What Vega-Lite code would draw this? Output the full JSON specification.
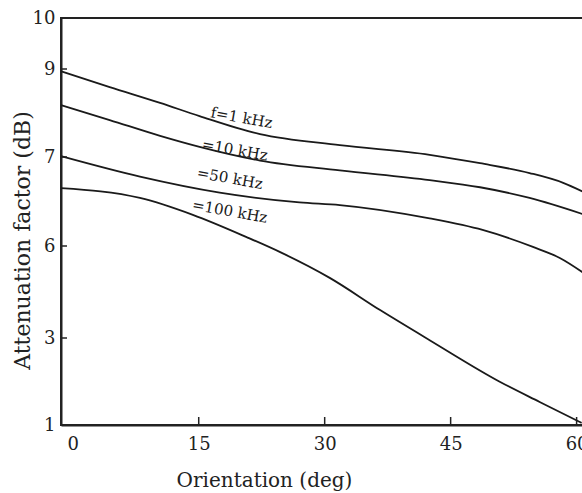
{
  "$schema": "https://vega.github.io/schema/vega-lite/v6.json",
  "width": 524,
  "height": 407,
  "autosize": {"type": "none"},
  "padding": {"left": 61, "top": 18, "right": 0, "bottom": 68},
  "background": "white",
  "config": {
    "view": {"stroke": "#222", "strokeWidth": 2},
    "font": "DejaVu Serif",
    "axis": {"grid": false, "ticks": false, "domainColor": "#222", "domainWidth": 2, "labelColor": "#222", "labelFont": "DejaVu Serif", "labelFontSize": 18, "titleFont": "DejaVu Serif", "titleFontSize": 20, "titleFontWeight": "normal", "titleColor": "#222"}
  },
  "layer": [
    {
      "data": {"values": [
        {"f": "1 kHz", "angle": -1.4, "att": 8.95},
        {"f": "1 kHz", "angle": 4.4, "att": 8.59},
        {"f": "1 kHz", "angle": 10.4, "att": 8.23},
        {"f": "1 kHz", "angle": 15.1, "att": 7.93},
        {"f": "1 kHz", "angle": 22.3, "att": 7.52},
        {"f": "1 kHz", "angle": 31.8, "att": 7.27},
        {"f": "1 kHz", "angle": 42.5, "att": 7.05},
        {"f": "1 kHz", "angle": 48.5, "att": 6.93},
        {"f": "1 kHz", "angle": 54.4, "att": 6.82},
        {"f": "1 kHz", "angle": 58.4, "att": 6.71},
        {"f": "1 kHz", "angle": 61, "att": 6.6},
        {"f": "10 kHz", "angle": -1.4, "att": 8.18},
        {"f": "10 kHz", "angle": 4.4, "att": 7.84},
        {"f": "10 kHz", "angle": 10.4, "att": 7.48},
        {"f": "10 kHz", "angle": 15.1, "att": 7.23},
        {"f": "10 kHz", "angle": 22.3, "att": 6.96},
        {"f": "10 kHz", "angle": 31.8, "att": 6.85},
        {"f": "10 kHz", "angle": 42.5, "att": 6.74},
        {"f": "10 kHz", "angle": 48.5, "att": 6.66},
        {"f": "10 kHz", "angle": 54.4, "att": 6.54},
        {"f": "10 kHz", "angle": 61, "att": 6.35},
        {"f": "50 kHz", "angle": -1.4, "att": 7.02},
        {"f": "50 kHz", "angle": 8.0, "att": 6.78},
        {"f": "50 kHz", "angle": 17.5, "att": 6.6},
        {"f": "50 kHz", "angle": 27.0, "att": 6.49},
        {"f": "50 kHz", "angle": 31.8, "att": 6.46},
        {"f": "50 kHz", "angle": 42.5, "att": 6.31},
        {"f": "50 kHz", "angle": 48.8, "att": 6.18},
        {"f": "50 kHz", "angle": 54.8, "att": 5.97},
        {"f": "50 kHz", "angle": 58.0, "att": 5.61},
        {"f": "50 kHz", "angle": 61, "att": 5.09},
        {"f": "100 kHz", "angle": -1.4, "att": 6.65},
        {"f": "100 kHz", "angle": 8.0, "att": 6.54},
        {"f": "100 kHz", "angle": 14.3, "att": 6.35},
        {"f": "100 kHz", "angle": 20.7, "att": 6.1},
        {"f": "100 kHz", "angle": 24.7, "att": 5.8},
        {"f": "100 kHz", "angle": 30.6, "att": 4.96},
        {"f": "100 kHz", "angle": 36.6, "att": 3.91},
        {"f": "100 kHz", "angle": 42.5, "att": 2.95},
        {"f": "100 kHz", "angle": 50.9, "att": 1.99},
        {"f": "100 kHz", "angle": 55.6, "att": 1.53},
        {"f": "100 kHz", "angle": 60.6, "att": 1.05}
      ]},
      "mark": {"type": "line", "interpolate": "monotone", "color": "#1a1a1a", "strokeWidth": 1.8},
      "encoding": {
        "x": {"field": "angle", "type": "quantitative", "scale": {"domain": [-1.4, 61], "nice": false, "zero": false},
              "axis": {"values": [0, 15, 30, 45, 60], "labelPadding": 10, "title": "Orientation (deg)", "titleX": 203, "titleY": 55, "titleBaseline": "middle", "titleAlign": "center"}},
        "y": {"field": "att", "type": "quantitative", "scale": {"type": "linear", "domain": [1, 3, 6, 7, 9, 10], "range": [407, 320, 228, 139, 51, 0], "nice": false, "zero": false},
              "axis": {"values": [1, 3, 6, 7, 9, 10], "labelPadding": 6, "title": "Attenuation factor (dB)", "titleFontSize": 22, "titleX": -39, "titleY": 222, "titleAngle": -90, "titleBaseline": "middle", "titleAlign": "center"}},
        "detail": {"field": "f", "type": "nominal"}
      }
    },
    {
      "data": {"values": [{"t": 15}, {"t": 30}, {"t": 45}, {"t": 60}]},
      "mark": {"type": "rule", "color": "#222", "strokeWidth": 1.5, "y2Offset": -8},
      "encoding": {
        "x": {"field": "t", "type": "quantitative"},
        "y": {"datum": 1},
        "y2": {"datum": 1}
      }
    },
    {
      "data": {"values": [{"t": 3}, {"t": 6}, {"t": 7}, {"t": 9}]},
      "mark": {"type": "rule", "color": "#222", "strokeWidth": 1.5, "x2Offset": 6},
      "encoding": {
        "y": {"field": "t", "type": "quantitative"},
        "x": {"datum": -1.4},
        "x2": {"datum": -1.4}
      }
    },
    {
      "data": {"values": [
        {"label": "f=1  kHz", "angle": 20.1, "att": 7.89},
        {"label": "=10  kHz", "angle": 19.3, "att": 7.16},
        {"label": "=50  kHz", "angle": 18.7, "att": 6.76},
        {"label": "=100  kHz", "angle": 18.7, "att": 6.39}
      ]},
      "mark": {"type": "text", "font": "DejaVu Serif", "fontSize": 15, "angle": 10, "align": "center", "baseline": "middle", "color": "#1a1a1a"},
      "encoding": {
        "x": {"field": "angle", "type": "quantitative"},
        "y": {"field": "att", "type": "quantitative"},
        "text": {"field": "label"}
      }
    }
  ]
}
